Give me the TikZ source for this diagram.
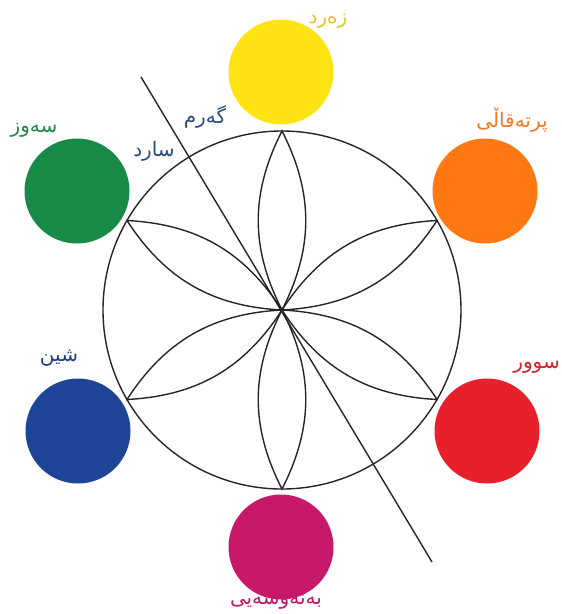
\documentclass[tikz,border=0pt]{standalone}
\usepackage{fontspec}
\usetikzlibrary{calc}
\newfontfamily\arabicfont[Script=Arabic]{DejaVu Sans}
\TeXXeTstate=1
\definecolor{cyellow}{HTML}{FFE312}
\definecolor{corange}{HTML}{FF7812}
\definecolor{cred}{HTML}{E8202C}
\definecolor{cviolet}{HTML}{C8186A}
\definecolor{cblue}{HTML}{1D4497}
\definecolor{cgreen}{HTML}{168A46}
\definecolor{tyellow}{HTML}{E6C52E}
\definecolor{torange}{HTML}{EE7A2A}
\definecolor{tred}{HTML}{D8202E}
\definecolor{tviolet}{HTML}{C0176A}
\definecolor{tblue}{HTML}{1F3F8C}
\definecolor{tgreen}{HTML}{1E8A4A}
\definecolor{tdark}{HTML}{2B4C7E}
\begin{document}
\begin{tikzpicture}[x=1pt,y=-1pt,
  paint/.style={circle,minimum size=105pt,inner sep=0pt},
  lbl/.style={font=\arabicfont\fontsize{20}{24}\selectfont,inner sep=0pt},
  ink/.style={line width=1.4pt,black!85}]
\useasboundingbox[fill=white] (0,0) rectangle (562,614);
\coordinate (O) at (282,310);
\draw[ink] (O) circle[radius=179];
\foreach \a in {90,30,-30,-90,-150,150}{
  \coordinate (p) at ($(O)+(\a:179)$);
  \draw[ink] (O) to[bend left=27] (p) to[bend left=27] (O);
}
\coordinate (L1) at (141,77);
\coordinate (L2) at (432,562);
\draw[ink] (L1) -- (L2);
\node[paint,fill=cyellow] (yellow) at (281,72) {};
\node[paint,fill=corange] (orange) at (485,191) {};
\node[paint,fill=cred] (red) at (487,431) {};
\node[paint,fill=cviolet] (violet) at (281,547) {};
\node[paint,fill=cblue] (blue) at (78,431) {};
\node[paint,fill=cgreen] (green) at (77,191) {};
\node[lbl,text=tyellow] (tY) at (328,21) {\beginR زەرد\endR};
\node[lbl,text=torange] (tO) at (512,120) {\beginR پرتەقاڵی\endR};
\node[lbl,text=tred,anchor=east] (tR) at (560,367) {\beginR سوور\endR};
\node[lbl,text=tviolet] (tV) at (276,601) {\beginR بەنەوشەیی\endR};
\node[lbl,text=tblue] (tB) at (59,358) {\beginR شین\endR};
\node[lbl,text=tgreen] (tG) at (34,130) {\beginR سەوز\endR};
\node[lbl,text=tdark] (tW) at (205,117) {\beginR گەرم\endR};
\node[lbl,text=tdark] (tC) at (154,151) {\beginR سارد\endR};
\end{tikzpicture}
\end{document}
